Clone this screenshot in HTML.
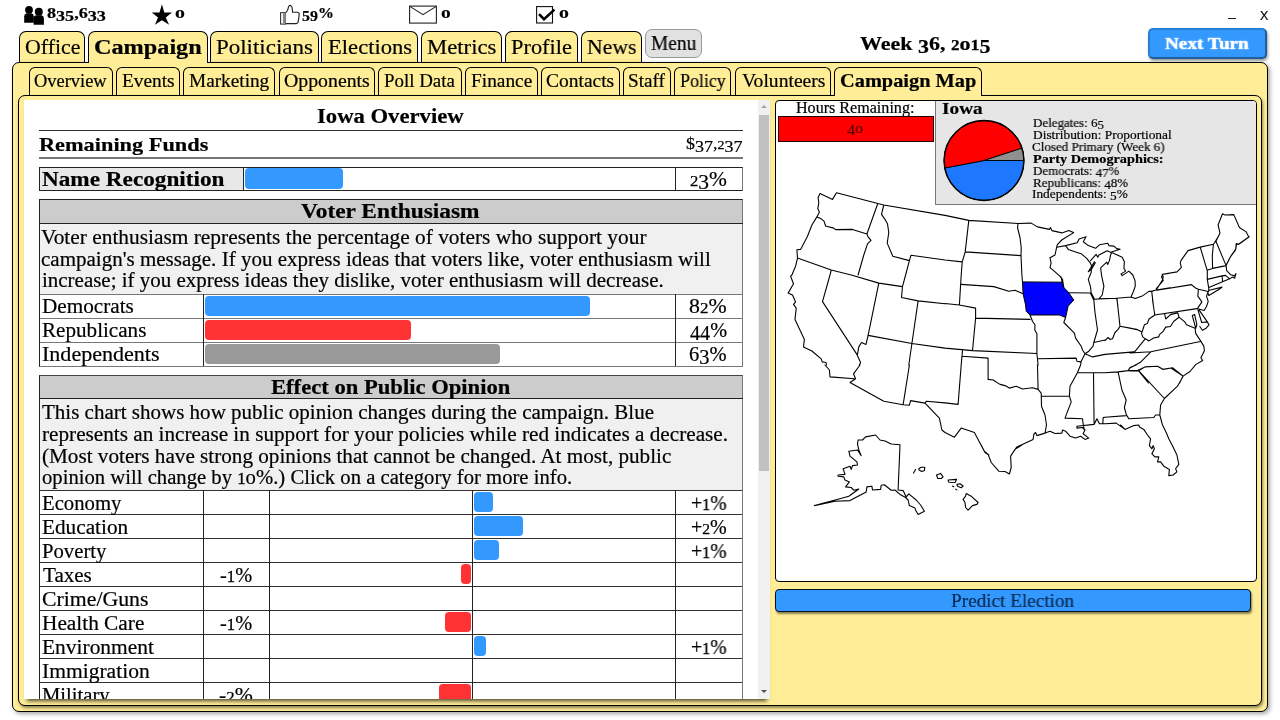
<!DOCTYPE html>
<html>
<head>
<meta charset="utf-8">
<title>Campaign Map</title>
<style>
*{box-sizing:border-box;margin:0;padding:0}
html,body{width:1280px;height:720px;overflow:hidden;background:#fff}
body{font-family:"Liberation Serif",serif;color:#000;position:relative}
.a{position:absolute}
.t{position:absolute;white-space:nowrap;line-height:1;transform-origin:0 0;will-change:transform;-webkit-text-stroke:.2px}
.tab{position:absolute;top:31px;height:33px;background:#FFED97;border:1px solid #000;border-bottom:none;border-radius:7px 7px 0 0}
.stab{position:absolute;top:67px;height:29px;background:#FFED97;border:1px solid #000;border-bottom:none;border-radius:6px 6px 0 0}
#outer{position:absolute;left:12px;top:62px;width:1256px;height:650px;background:#FFED97;border:1px solid #000;border-radius:7px;box-shadow:2px 2px 4px rgba(0,0,0,.35)}
#inner{position:absolute;left:18px;top:95px;width:1244px;height:611px;background:#FFED97;border:1px solid #000;border-radius:7px;box-shadow:1px 2px 3px rgba(0,0,0,.45)}
#left{position:absolute;left:24px;top:100px;width:746px;height:599px;background:#fff;overflow:hidden;box-shadow:0 5px 4px -3px rgba(0,0,0,.7)}
#right{position:absolute;left:775px;top:100px;width:482px;height:482px;background:#fff;border:1px solid #000;border-radius:4px;overflow:hidden}
.pg{position:absolute;left:0;top:0;width:1280px;height:720px}
.ln{position:absolute;background:#222}
.bar{position:absolute;border-radius:4px}
.blue{background:#3399FF}.red{background:#FF3333}.gray{background:#999}
</style>
</head>
<body>
<!--STATUS-->
<svg class="a" style="left:0;top:0" width="600" height="30" viewBox="0 0 600 30">
<!-- people -->
<g fill="#000">
<circle cx="29" cy="9.8" r="3.9"/>
<path d="M24.2 22.7 V16.2 Q24.2 13.6 26.6 13.3 H31.4 Q33.8 13.6 33.8 16.2 V22.7 Z"/>
<circle cx="38.8" cy="11.8" r="4"/>
<path d="M33.6 24.8 V18.2 Q33.6 15.6 36 15.3 H41.5 Q43.9 15.6 43.9 18.2 V24.8 Z"/>
</g>
<!-- star -->
<path fill="#000" d="M161.9 4.3 L164.3 12.4 L172 12.6 L165.8 17.4 L169.1 24.8 L161.9 20.2 L154.9 24.8 L158 17.4 L151.8 12.6 L159.5 12.4 Z"/>
<!-- thumb -->
<rect x="280.6" y="12.7" width="5.1" height="11.4" fill="#fff" stroke="#222" stroke-width="1"/>
<rect x="282.9" y="13.2" width="2.6" height="10.4" fill="#888"/>
<path fill="#fff" stroke="#222" stroke-width="1.15" stroke-linejoin="round" d="M285.9 12.6 Q288.2 10.2 288.6 6.6 Q289.2 5 290.6 5.4 Q292.4 6.6 292.3 9 L292.5 12.2 H297.6 Q299.5 12.6 299.2 14.6 L298.2 21.8 Q297.8 23.5 296.2 23.6 H285.9"/>
<!-- envelope -->
<rect x="409.6" y="6.1" width="26.8" height="17" fill="#fff" stroke="#222" stroke-width="1.1"/>
<path d="M409.8 6.4 L423 14.6 L436.2 6.4" fill="none" stroke="#222" stroke-width="1.1"/>
<!-- checkbox -->
<rect x="536.6" y="6.6" width="15.9" height="16.4" fill="#fff" stroke="#111" stroke-width="1.1"/>
<path d="M539 14.2 L544 19.2 L554.4 9.6" fill="none" stroke="#000" stroke-width="2.6"/>
</svg>

<div class="t" style="left:46.77px;top:5.94px;font-size:15px;transform:scaleX(1.2068);font-weight:bold;">8<span style="position:relative;top:0.17em">35</span>,6<span style="position:relative;top:0.17em">33</span></div>
<div class="t" style="left:174.59px;top:3.84px;font-size:17.5px;transform:scaleX(1.1333);font-weight:bold;">o</div>
<div class="t" style="left:302.10px;top:5.94px;font-size:15px;transform:scaleX(1.0619);font-weight:bold;"><span style="position:relative;top:0.17em">59</span>%</div>
<div class="t" style="left:441.21px;top:3.84px;font-size:17.5px;transform:scaleX(1.1067);font-weight:bold;">o</div>
<div class="t" style="left:558.59px;top:3.84px;font-size:17.5px;transform:scaleX(1.1333);font-weight:bold;">o</div>
<div class="a" style="left:1228px;top:18px;width:8px;height:1px;background:#222"></div>
<div class="t" style="left:1259.95px;top:9.54px;font-size:12.5px;transform:scaleX(0.9905);font-family:'Liberation Sans',sans-serif;">X</div>
<div class="tab" style="left:19px;width:66px"></div>
<div class="tab" style="left:210px;width:109px"></div>
<div class="tab" style="left:321px;width:97px"></div>
<div class="tab" style="left:421px;width:81px"></div>
<div class="tab" style="left:505px;width:73px"></div>
<div class="tab" style="left:581px;width:61px"></div>
<div id="outer"></div>
<div class="tab" style="left:88px;width:120px;height:31px"></div>
<div class="a" style="left:89px;top:61px;width:118px;height:3px;background:#FFED97"></div>
<div class="t" style="left:24.62px;top:37.24px;font-size:21.8px;transform:scaleX(1.0021);">Office</div>
<div class="t" style="left:93.84px;top:36.88px;font-size:20.8px;transform:scaleX(1.1649);font-weight:bold;">Campaign</div>
<div class="t" style="left:216.34px;top:37.24px;font-size:21.8px;transform:scaleX(1.0523);">Politicians</div>
<div class="t" style="left:328.05px;top:37.24px;font-size:21.8px;transform:scaleX(1.0374);">Elections</div>
<div class="t" style="left:426.65px;top:37.24px;font-size:21.8px;transform:scaleX(1.0421);">Metrics</div>
<div class="t" style="left:511.36px;top:37.24px;font-size:21.8px;transform:scaleX(1.0259);">Profile</div>
<div class="t" style="left:587.38px;top:37.24px;font-size:21.8px;transform:scaleX(0.9935);">News</div>
<div class="a" style="left:645px;top:29px;width:57px;height:29px;background:#E1E1E1;border:1px solid #999;border-radius:7px"></div>
<div class="t" style="left:651.25px;top:33.15px;font-size:20px;transform:scaleX(0.9692);">Menu</div>
<div class="t" style="left:859.71px;top:33.99px;font-size:19px;transform:scaleX(1.1574);font-weight:bold;">Week <span style="position:relative;top:0.17em">3</span>6, <span style="font-size:0.78em;-webkit-text-stroke:.25px">2</span>o<span style="font-size:0.82em;-webkit-text-stroke:.3px">1</span><span style="position:relative;top:0.17em">5</span></div>
<div class="a" style="left:1148px;top:28px;width:119px;height:31px;background:#3399FF;border:2px solid #2a7fd4;border-right-color:#1f5f9f;border-bottom-color:#1f5f9f;border-radius:5px;box-shadow:1px 2px 3px rgba(0,0,0,.4)"></div>
<div class="t" style="left:1164.86px;top:35.44px;font-size:17.5px;transform:scaleX(1.0974);font-weight:bold;color:#fff;text-shadow:0 0 2px #cfe6ff;">Next Turn</div>
<div class="stab" style="left:29px;width:84px"></div>
<div class="stab" style="left:116px;width:64px"></div>
<div class="stab" style="left:183px;width:92px"></div>
<div class="stab" style="left:279px;width:96px"></div>
<div class="stab" style="left:378px;width:84px"></div>
<div class="stab" style="left:465px;width:73px"></div>
<div class="stab" style="left:541px;width:79px"></div>
<div class="stab" style="left:623px;width:48px"></div>
<div class="stab" style="left:674px;width:57px"></div>
<div class="stab" style="left:735px;width:96px"></div>
<div id="inner"></div>
<div class="stab" style="left:834px;width:148px;height:28px"></div>
<div class="a" style="left:835px;top:94px;width:146px;height:3px;background:#FFED97"></div>
<div class="t" style="left:34.24px;top:71.67px;font-size:18.3px;transform:scaleX(1.0079);">Overview</div>
<div class="t" style="left:121.97px;top:71.67px;font-size:18.3px;transform:scaleX(1.0578);">Events</div>
<div class="t" style="left:188.97px;top:71.67px;font-size:18.3px;transform:scaleX(1.0539);">Marketing</div>
<div class="t" style="left:283.89px;top:71.67px;font-size:18.3px;transform:scaleX(1.0833);">Opponents</div>
<div class="t" style="left:384.48px;top:71.67px;font-size:18.3px;transform:scaleX(1.0338);">Poll Data</div>
<div class="t" style="left:470.77px;top:71.67px;font-size:18.3px;transform:scaleX(1.0579);">Finance</div>
<div class="t" style="left:546.40px;top:71.67px;font-size:18.3px;transform:scaleX(1.0656);">Contacts</div>
<div class="t" style="left:627.95px;top:71.67px;font-size:18.3px;transform:scaleX(1.0491);">Staff</div>
<div class="t" style="left:679.71px;top:71.67px;font-size:18.3px;transform:scaleX(0.9795);">Policy</div>
<div class="t" style="left:741.80px;top:71.67px;font-size:18.3px;transform:scaleX(1.0714);">Volunteers</div>
<div class="t" style="left:839.53px;top:71.57px;font-size:18.3px;transform:scaleX(1.1135);font-weight:bold;">Campaign Map</div>
<div id="left"><div class="pg" style="left:-24px;top:-100px">
<div class="t" style="left:317.14px;top:105.53px;font-size:20.5px;transform:scaleX(1.1051);font-weight:bold;">Iowa Overview</div>
<div class="ln" style="left:39px;top:130px;width:704px;height:1px;background:#333"></div>
<div class="t" style="left:39.43px;top:135.56px;font-size:18.8px;transform:scaleX(1.1886);font-weight:bold;">Remaining Funds</div>
<div class="t" style="left:685.87px;top:135.36px;font-size:17px;transform:scaleX(1.0584);">$<span style="position:relative;top:0.17em">37</span>,<span style="font-size:0.78em;-webkit-text-stroke:.25px">2</span><span style="position:relative;top:0.17em">37</span></div>
<div class="ln" style="left:39px;top:157px;width:704px;height:2px;background:#777"></div>
<div class="a" style="left:39px;top:167px;width:704px;height:24px;border:1px solid #222;border-right-color:#777;background:#fff"></div>
<div class="a" style="left:40px;top:168px;width:203px;height:22px;background:#E8E8E8"></div>
<div class="ln" style="left:243px;top:167px;width:1px;height:24px"></div>
<div class="ln" style="left:675px;top:167px;width:1px;height:24px"></div>
<div class="t" style="left:41.86px;top:168.65px;font-size:20px;transform:scaleX(1.1606);font-weight:bold;">Name Recognition</div>
<div class="bar blue" style="left:245px;top:168px;width:98px;height:21px"></div>
<div class="t" style="left:689.73px;top:168.85px;font-size:20px;transform:scaleX(1.0727);"><span style="font-size:0.78em;-webkit-text-stroke:.25px">2</span><span style="position:relative;top:0.17em">3</span>%</div>
<div class="a" style="left:39px;top:199px;width:704px;height:168px;border:1px solid #222;border-right-color:#777;border-bottom-color:#777;background:#fff"></div>
<div class="a" style="left:40px;top:200px;width:702px;height:23px;background:#CCC"></div>
<div class="a" style="left:40px;top:224px;width:702px;height:70px;background:#F0F0F0"></div>
<div class="ln" style="left:39px;top:223px;width:704px;height:1px"></div>
<div class="ln" style="left:40px;top:294px;width:702px;height:1px;background:#777"></div>
<div class="ln" style="left:40px;top:318px;width:702px;height:1px;background:#777"></div>
<div class="ln" style="left:40px;top:342px;width:702px;height:1px;background:#777"></div>
<div class="ln" style="left:203px;top:294px;width:1px;height:72px"></div>
<div class="ln" style="left:675px;top:294px;width:1px;height:72px"></div>
<div class="t" style="left:300.78px;top:201.30px;font-size:20.3px;transform:scaleX(1.1522);font-weight:bold;">Voter Enthusiasm</div>
<div class="t" style="left:41.30px;top:227.15px;font-size:20px;transform:scaleX(1.0685);">Voter enthusiasm represents the percentage of voters who support your</div>
<div class="t" style="left:41.21px;top:248.75px;font-size:20px;transform:scaleX(1.0509);">campaign's message. If you express ideas that voters like, voter enthusiasm will</div>
<div class="t" style="left:41.91px;top:270.35px;font-size:20px;transform:scaleX(1.0481);">increase; if you express ideas they dislike, voter enthusiasm will decrease.</div>
<div class="t" style="left:42.40px;top:296.25px;font-size:20px;transform:scaleX(1.0600);">Democrats</div>
<div class="bar blue" style="left:205px;top:296px;width:384.5px;height:20px"></div>
<div class="t" style="left:689.48px;top:296.25px;font-size:20px;transform:scaleX(1.0888);">8<span style="font-size:0.78em;-webkit-text-stroke:.25px">2</span>%</div>
<div class="t" style="left:42.41px;top:320.25px;font-size:20px;transform:scaleX(1.0557);">Republicans</div>
<div class="bar red" style="left:205px;top:320px;width:206.3px;height:20px"></div>
<div class="t" style="left:689.92px;top:320.25px;font-size:20px;transform:scaleX(1.0105);"><span style="position:relative;top:0.17em">44</span>%</div>
<div class="t" style="left:42.24px;top:344.25px;font-size:20px;transform:scaleX(1.1021);">Independents</div>
<div class="bar gray" style="left:205px;top:344px;width:295.3px;height:20px"></div>
<div class="t" style="left:689.47px;top:344.25px;font-size:20px;transform:scaleX(1.0231);">6<span style="position:relative;top:0.17em">3</span>%</div>
<div class="a" style="left:39px;top:375px;width:704px;height:340px;border:1px solid #222;border-top-color:#444;border-right-color:#777;background:#fff"></div>
<div class="a" style="left:40px;top:376px;width:702px;height:22px;background:#CCC"></div>
<div class="a" style="left:40px;top:399px;width:702px;height:91px;background:#F0F0F0"></div>
<div class="ln" style="left:39px;top:398px;width:704px;height:1px"></div>
<div class="ln" style="left:40px;top:490px;width:702px;height:1px;background:#333"></div>
<div class="ln" style="left:40px;top:514px;width:702px;height:1px;background:#333"></div>
<div class="ln" style="left:40px;top:538px;width:702px;height:1px;background:#333"></div>
<div class="ln" style="left:40px;top:562px;width:702px;height:1px;background:#333"></div>
<div class="ln" style="left:40px;top:586px;width:702px;height:1px;background:#333"></div>
<div class="ln" style="left:40px;top:610px;width:702px;height:1px;background:#333"></div>
<div class="ln" style="left:40px;top:634px;width:702px;height:1px;background:#333"></div>
<div class="ln" style="left:40px;top:658px;width:702px;height:1px;background:#333"></div>
<div class="ln" style="left:40px;top:682px;width:702px;height:1px;background:#333"></div>
<div class="ln" style="left:203px;top:490px;width:1px;height:220px"></div>
<div class="ln" style="left:269px;top:490px;width:1px;height:220px"></div>
<div class="ln" style="left:472px;top:490px;width:1px;height:220px"></div>
<div class="ln" style="left:675px;top:490px;width:1px;height:220px"></div>
<div class="t" style="left:270.65px;top:376.90px;font-size:20.3px;transform:scaleX(1.1149);font-weight:bold;">Effect on Public Opinion</div>
<div class="t" style="left:42.37px;top:402.45px;font-size:20px;transform:scaleX(1.0504);">This chart shows how public opinion changes during the campaign. Blue</div>
<div class="t" style="left:41.90px;top:424.05px;font-size:20px;transform:scaleX(1.0604);">represents an increase in support for your policies while red indicates a decrease.</div>
<div class="t" style="left:41.57px;top:445.65px;font-size:20px;transform:scaleX(1.0579);">(Most voters have strong opinions that cannot be changed. At most, public</div>
<div class="t" style="left:41.53px;top:467.25px;font-size:20px;transform:scaleX(1.0333);">opinion will change by <span style="font-size:0.82em;-webkit-text-stroke:.3px">1</span>o%.) Click on a category for more info.</div>
<div class="t" style="left:42.42px;top:492.85px;font-size:20px;transform:scaleX(1.0355);">Economy</div>
<div class="bar blue" style="left:474px;top:492px;width:19.3px;height:20px"></div>
<div class="t" style="left:690.68px;top:492.85px;font-size:20px;transform:scaleX(0.9847);">+<span style="font-size:0.82em;-webkit-text-stroke:.3px">1</span>%</div>
<div class="t" style="left:42.40px;top:516.85px;font-size:20px;transform:scaleX(1.0629);">Education</div>
<div class="bar blue" style="left:474px;top:516px;width:48.7px;height:20px"></div>
<div class="t" style="left:690.67px;top:516.85px;font-size:20px;transform:scaleX(0.9955);">+<span style="font-size:0.78em;-webkit-text-stroke:.25px">2</span>%</div>
<div class="t" style="left:42.42px;top:540.85px;font-size:20px;transform:scaleX(1.0347);">Poverty</div>
<div class="bar blue" style="left:474px;top:540px;width:25.0px;height:20px"></div>
<div class="t" style="left:690.68px;top:540.85px;font-size:20px;transform:scaleX(0.9847);">+<span style="font-size:0.82em;-webkit-text-stroke:.3px">1</span>%</div>
<div class="t" style="left:42.67px;top:564.85px;font-size:20px;transform:scaleX(1.0527);">Taxes</div>
<div class="bar red" style="left:461px;top:564px;width:10.0px;height:20px"></div>
<div class="t" style="left:220.30px;top:564.85px;font-size:20px;transform:scaleX(1.0179);">-<span style="font-size:0.82em;-webkit-text-stroke:.3px">1</span>%</div>
<div class="t" style="left:42.12px;top:588.85px;font-size:20px;transform:scaleX(1.0878);">Crime/Guns</div>
<div class="t" style="left:42.40px;top:612.85px;font-size:20px;transform:scaleX(1.0653);">Health Care</div>
<div class="bar red" style="left:445px;top:612px;width:26.0px;height:20px"></div>
<div class="t" style="left:220.30px;top:612.85px;font-size:20px;transform:scaleX(1.0179);">-<span style="font-size:0.82em;-webkit-text-stroke:.3px">1</span>%</div>
<div class="t" style="left:42.40px;top:636.85px;font-size:20px;transform:scaleX(1.0721);">Environment</div>
<div class="bar blue" style="left:474px;top:636px;width:11.7px;height:20px"></div>
<div class="t" style="left:690.68px;top:636.85px;font-size:20px;transform:scaleX(0.9847);">+<span style="font-size:0.82em;-webkit-text-stroke:.3px">1</span>%</div>
<div class="t" style="left:42.26px;top:660.85px;font-size:20px;transform:scaleX(1.0771);">Immigration</div>
<div class="t" style="left:42.42px;top:684.85px;font-size:20px;transform:scaleX(1.0318);">Military</div>
<div class="bar red" style="left:439px;top:684px;width:32.0px;height:20px"></div>
<div class="t" style="left:219.25px;top:684.85px;font-size:20px;transform:scaleX(1.0844);">-<span style="font-size:0.78em;-webkit-text-stroke:.25px">2</span>%</div>
<div class="a" style="left:758px;top:100px;width:12px;height:599px;background:#F1F1F1"></div>
<div class="a" style="left:759px;top:115px;width:10px;height:356px;background:#C1C1C1"></div>
<div class="a" style="left:761px;top:105px;width:0;height:0;border-left:3px solid transparent;border-right:3px solid transparent;border-bottom:3px solid #A3A3A3"></div>
<div class="a" style="left:761px;top:690px;width:0;height:0;border-left:3px solid transparent;border-right:3px solid transparent;border-top:3px solid #505050"></div>
</div></div>
<div id="right"><div class="pg" style="left:-776px;top:-101px">
<div class="t" style="left:795.66px;top:100.20px;font-size:16px;transform:scaleX(1.0055);">Hours Remaining:</div>
<div class="a" style="left:778px;top:116px;width:156px;height:26px;background:#FF0000;border:1px solid #200"></div>
<div class="t" style="left:846.72px;top:120.96px;font-size:14.5px;transform:scaleX(1.1127);color:#5a0000;"><span style="position:relative;top:0.17em">4</span>o</div>
<div class="a" style="left:935px;top:100px;width:322px;height:105px;background:#E6E6E6;border:1px solid #777"></div>
<div class="t" style="left:942.16px;top:99.76px;font-size:17px;transform:scaleX(1.1351);font-weight:bold;">Iowa</div>
<svg class="a" style="left:935px;top:112px" width="100" height="96" viewBox="935 112 100 96">
<path d="M984.0 160.5 L1023.90 160.50 A39.9 39.9 0 0 1 944.81 167.98 Z" fill="#1E78FF" stroke="#000" stroke-width="0.9" stroke-linejoin="round"/>
<path d="M984.0 160.5 L944.81 167.98 A39.9 39.9 0 0 1 1021.95 148.17 Z" fill="#FF0000" stroke="#000" stroke-width="0.9" stroke-linejoin="round"/>
<path d="M984.0 160.5 L1021.95 148.17 A39.9 39.9 0 0 1 1023.90 160.50 Z" fill="#909090" stroke="#000" stroke-width="0.9" stroke-linejoin="round"/>
<circle cx="984.0" cy="160.5" r="39.9" fill="none" stroke="#000" stroke-width="1.5"/>
</svg>
<div class="t" style="left:1032.53px;top:115.84px;font-size:13.2px;transform:scaleX(0.9832);">Delegates: 6<span style="position:relative;top:0.17em">5</span></div>
<div class="t" style="left:1032.52px;top:127.78px;font-size:13.2px;transform:scaleX(1.0150);">Distribution: Proportional</div>
<div class="t" style="left:1032.41px;top:139.70px;font-size:13.2px;transform:scaleX(0.9887);">Closed Primary (Week 6)</div>
<div class="t" style="left:1032.70px;top:151.63px;font-size:13.2px;transform:scaleX(1.0832);font-weight:bold;">Party Demographics:</div>
<div class="t" style="left:1032.53px;top:163.56px;font-size:13.2px;transform:scaleX(0.9787);">Democrats: <span style="position:relative;top:0.17em">47</span>%</div>
<div class="t" style="left:1032.53px;top:175.50px;font-size:13.2px;transform:scaleX(0.9879);">Republicans: <span style="position:relative;top:0.17em">4</span>8%</div>
<div class="t" style="left:1032.46px;top:187.43px;font-size:13.2px;transform:scaleX(1.0097);">Independents: <span style="position:relative;top:0.17em">5</span>%</div>
<svg class="a" style="left:776px;top:180px" width="480" height="340" viewBox="776 180 480 340">
<path d="M1022.5 281.9 L1061.9 282.2 L1063.8 287.5 L1068.1 291.9 L1073.8 300.0 L1068.1 306.2 L1065.6 317.5 L1059.4 315.0 L1030.0 315.0 L1026.2 311.2 L1025.6 305.0 L1023.1 293.8 Z" fill="#0000FF" stroke="#000" stroke-width="1"/>
<path d="M816.9 216.9 L819.4 211.9 L817.8 208.8 L818.8 202.5 L818.1 197.5 L820.0 193.5 L832.5 199.4 L836.5 192.8 L877.8 203.5 L883.8 205.0 L945.0 215.4 M816.9 216.9 L821.2 218.8 L824.0 221.2 L825.6 226.0 L833.8 228.1 L835.6 229.6 L852.5 229.4 L866.9 234.0 M877.8 203.5 L866.9 234.0 L868.1 236.9 L871.0 240.4 L867.5 243.8 L863.8 255.0 L858.1 275.0 M816.9 216.9 L811.9 225.0 L807.5 236.2 L800.6 249.4 L796.9 249.8 L797.5 258.1 L795.6 266.2 L791.9 275.0 M797.5 258.1 L831.2 270.0 L851.2 275.0 M831.2 270.0 L830.0 275.0 M883.8 205.0 L881.5 214.4 L885.0 219.4 L887.5 223.8 L888.8 232.5 L887.2 243.1 L892.8 256.2 L909.4 260.6 L905.6 275.0 M909.4 260.6 L911.0 255.2 L945.0 260.0 M945.0 215.4 L968.8 220.4 L1018.1 223.5 L1031.2 223.1 L1037.5 226.9 L1049.4 229.4 L1050.4 227.5 L1051.9 230.6 L1061.9 232.9 L1068.8 230.6 L1073.5 232.5 M968.8 220.4 L965.2 251.9 L962.2 261.9 L961.2 275.0 M945.0 260.0 L962.2 261.9 M965.2 251.9 L1021.0 255.6 M1018.1 223.5 L1017.5 227.5 L1020.0 237.5 L1021.2 247.5 L1021.0 255.6 L1021.9 275.0 M1073.7 232.6 L1066.1 237.2 L1061.7 240.0 L1057.2 244.8 L1056.7 247.2 L1055.0 255.0 L1050.0 257.8 L1051.1 262.8 L1050.0 267.8 L1052.2 269.4 L1061.1 277.2 L1062.2 282.8 M1056.7 247.2 L1065.6 245.6 L1077.2 242.8 L1079.1 238.9 L1086.1 236.7 L1083.3 241.7 L1088.3 245.6 L1095.6 248.3 L1099.4 244.8 L1107.8 243.3 L1108.9 245.6 L1113.9 246.1 L1116.7 248.6 L1120.2 249.2 L1112.2 251.7 L1111.1 252.6 M1065.6 245.6 L1068.3 249.4 L1081.7 254.1 L1086.7 258.3 L1090.6 263.3 L1091.7 266.7 L1091.1 272.8 L1088.3 279.4 L1090.6 287.2 L1091.1 292.8 L1094.4 298.9 M1111.1 252.6 L1107.2 250.8 L1103.3 252.8 L1098.9 255.0 L1097.8 257.2 L1096.1 254.4 L1090.6 260.6 M1094.4 261.7 L1088.3 271.7 M1095.3 262.6 L1091.3 269.4 L1088.3 271.7 M1069.4 292.8 L1090.6 293.0 M1098.9 298.9 L1102.2 295.0 L1103.9 286.1 L1101.7 276.1 L1100.6 267.8 L1106.7 262.2 L1107.8 264.4 L1109.4 260.6 L1110.6 255.0 L1111.7 252.6 L1116.7 254.8 L1122.2 257.2 L1124.4 261.7 L1123.9 268.3 L1125.6 271.1 L1121.1 273.9 L1122.2 275.6 L1128.9 271.1 L1132.8 275.0 L1135.0 280.6 L1135.3 286.1 L1133.3 291.7 L1131.1 296.7 M1094.4 299.2 L1098.9 298.9 L1116.7 298.3 L1131.1 297.0 L1135.3 298.6 L1142.2 296.1 L1148.9 291.4 L1152.2 291.1 L1156.1 290.0 L1162.2 280.6 L1163.3 277.2 L1162.2 274.4 L1170.0 273.3 M1116.7 298.3 L1117.8 305.0 M1151.7 291.1 L1153.3 305.0 M1156.1 290.0 L1170.0 287.8 M1249.2 236.7 L1238.8 244.2 L1236.5 243.6 L1235.9 248.8 L1230.7 256.3 L1226.1 265.6 M1215.7 240.8 L1226.1 265.6 M1188.0 250.6 L1200.2 247.1 L1213.4 244.2 L1215.7 240.8 L1219.2 235.0 M1213.4 244.2 L1212.3 255.8 L1212.6 268.4 M1200.2 247.1 L1207.1 270.2 M1207.1 270.2 L1212.6 268.4 L1224.9 265.9 L1226.1 265.6 L1226.7 270.7 L1230.7 274.8 L1234.7 275.9 L1235.9 273.6 L1234.7 278.2 L1232.4 277.1 L1229.6 278.8 M1207.3 279.4 L1222.1 275.9 L1225.5 275.4 L1229.6 278.8 L1222.6 281.7 L1208.8 287.5 M1222.1 275.9 L1222.6 281.7 M1207.3 270.2 L1207.3 279.4 L1208.8 288.6 L1208.6 291.5 M1209.4 290.3 L1222.1 287.1 L1219.2 289.2 L1208.8 295.5 L1207.7 292.1 M1188.0 250.6 L1181.1 260.4 L1180.2 263.2 L1181.4 267.3 L1177.1 271.9 L1162.7 274.2 L1161.5 277.1 L1163.3 280.5 L1156.3 288.6 L1156.9 290.3 M1156.9 290.3 L1191.5 284.6 L1195.5 288.0 L1198.4 289.2 L1208.2 291.5 M1198.4 289.2 L1197.8 296.1 L1201.9 301.9 L1198.4 307.1 L1197.3 308.8 M1208.2 291.5 L1206.5 296.1 L1208.2 301.3 L1206.5 306.5 L1204.2 310.5 L1197.8 308.8 M1215.6 241.9 L1220.0 233.1 L1218.1 225.0 L1222.5 213.8 L1225.0 215.0 L1233.8 214.6 L1239.4 227.5 L1246.2 231.9 L1248.8 236.9 L1238.1 244.4 L1236.2 243.8 L1235.6 250.0 L1230.0 257.5 L1226.2 265.0 M791.9 275.0 L790.6 276.2 L793.5 283.8 L788.1 293.1 L792.5 295.0 L795.6 301.9 L793.5 304.4 L796.2 308.1 L795.0 319.4 L804.4 339.4 L803.5 346.9 L811.9 351.0 L821.2 358.8 L822.2 361.9 L826.0 362.5 L826.5 365.0 M830.0 275.0 L822.5 301.6 L856.9 354.4 L860.6 362.5 L859.4 365.0 M851.2 275.0 L878.8 283.1 L902.5 286.6 M878.8 283.1 L868.1 335.4 L866.0 344.4 L861.5 342.5 L858.8 346.9 L857.5 354.4 M905.6 275.0 L902.5 286.6 L901.5 297.5 L918.1 300.9 L945.0 303.8 M918.1 300.9 L911.9 343.5 M868.1 335.4 L911.9 343.5 L945.0 348.1 M911.9 343.5 L908.8 365.0 M961.2 275.0 L959.4 305.0 M945.0 303.5 L959.4 305.0 L975.6 308.1 M961.2 284.4 L993.8 286.6 L1008.8 291.2 L1015.0 290.2 L1023.1 293.8 M975.6 308.1 L975.6 318.1 L1030.0 319.4 M1030.0 315.0 L1032.5 321.2 L1035.0 325.0 L1034.8 330.0 L1036.9 333.8 L1036.9 353.5 L1038.1 365.0 M975.6 318.1 L972.5 350.6 M945.0 348.1 L972.5 350.6 L1036.9 353.5 M962.5 350.6 L961.2 365.0 M962.5 356.2 L988.1 358.1 L988.1 365.0 M1065.6 317.5 L1063.8 322.5 L1074.4 333.1 L1075.6 338.1 L1081.2 346.2 L1082.5 350.0 L1085.0 353.8 L1083.8 356.2 L1081.2 361.2 L1080.6 365.0 M1038.1 358.8 L1076.2 358.1 L1076.9 361.2 L1080.6 361.9 M1090.6 293.5 L1093.8 300.0 L1095.0 312.5 L1097.5 330.0 L1093.8 342.5 L1093.1 346.2 L1088.8 351.2 L1085.0 353.8 M1058.8 275.0 L1062.5 279.4 L1063.8 287.5 M1021.9 275.0 L1022.5 281.9 M1093.8 342.5 L1105.0 340.0 M1085.0 353.8 L1092.5 356.9 L1105.0 354.4 M1116.9 298.1 L1120.0 326.2 M1120.0 326.2 L1130.0 328.1 L1138.1 330.0 L1141.9 331.9 M1120.0 326.2 L1118.1 329.4 L1115.0 332.5 L1112.5 338.8 L1110.0 339.4 L1108.1 337.5 L1105.0 340.6 M1105.0 354.4 L1133.8 351.9 M1152.5 300.0 L1154.8 315.0 L1196.9 308.6 M1198.0 310.1 L1201.7 322.5 L1207.3 321.9 L1199.2 310.1 M1207.3 321.9 L1209.0 324.8 L1206.1 328.2 L1202.4 330.2 L1199.8 326.5 M1192.3 315.6 L1194.6 314.4 L1196.9 324.8 L1195.7 328.2 L1192.3 315.6 M1164.6 313.6 L1165.7 319.0 L1170.9 314.4 L1177.8 312.9 L1179.0 317.1 L1184.8 321.9 L1186.5 324.8 L1195.1 328.2 M1179.0 317.3 L1173.8 321.3 L1170.4 326.5 L1165.7 327.1 L1162.9 331.7 L1159.4 334.6 L1158.8 336.9 L1153.6 338.0 L1149.0 340.9 L1145.0 338.6 L1142.7 336.9 M1154.8 315.0 L1149.0 319.0 L1147.3 323.6 L1144.4 324.8 L1142.7 330.0 L1141.5 333.4 L1142.7 336.9 M1130.0 328.2 L1136.9 329.4 L1141.5 331.7 M1145.0 339.2 L1134.6 351.9 M1130.0 353.0 L1150.8 351.7 L1200.3 341.5 M1195.1 328.2 L1195.7 333.4 L1200.3 340.4 L1203.8 346.1 L1204.4 350.7 L1200.9 357.7 L1202.6 360.5 L1195.7 364.6 L1190.0 371.5 L1183.0 376.1 L1179.6 383.0 M1150.8 351.9 L1140.4 362.3 L1130.0 368.0 M1138.6 370.9 L1145.0 366.9 L1157.7 366.3 L1162.9 369.2 L1170.9 368.0 L1183.0 376.1 M1130.0 370.9 L1138.6 370.9 L1148.4 383.0 M825.0 365.0 L829.4 370.0 L830.0 376.9 L854.4 378.8 M860.0 365.0 L853.5 373.8 L855.6 378.8 L850.0 382.5 L883.8 401.2 L903.1 404.8 L909.4 405.2 L910.6 400.6 L925.0 403.1 L926.2 401.2 L945.0 402.9 M909.4 365.0 L903.1 404.8 M925.0 403.1 L939.4 418.1 L941.9 430.0 L945.0 432.5 M961.2 365.0 L958.1 404.4 L945.0 402.9 M988.1 365.0 L988.1 379.4 L993.1 380.0 L1000.0 384.4 L1005.0 385.6 L1009.4 388.1 L1016.2 386.2 L1022.5 389.0 L1032.5 387.8 L1038.1 389.4 L1041.2 393.1 L1041.5 406.2 L1045.0 415.0 L1046.5 425.0 L1045.0 433.1 M1037.5 365.0 L1038.1 389.4 M1041.5 396.2 L1069.4 396.2 M1080.6 365.0 L1077.5 372.5 L1070.0 386.2 L1069.4 396.2 L1071.2 401.9 L1065.0 418.1 L1082.5 418.8 L1083.1 423.8 L1084.4 430.0 M1077.5 372.5 L1105.0 372.8 M1093.5 373.1 L1094.1 424.4 M1076.9 426.2 L1094.1 424.4 L1096.9 418.8 L1099.4 423.8 L1102.8 423.5 L1105.0 423.8 M1102.8 423.5 L1103.2 417.6 L1105.0 417.2 M1045.0 433.1 L1050.0 431.2 L1055.0 433.5 L1061.9 433.1 L1062.5 430.0 L1065.6 431.2 L1070.0 436.2 L1075.6 438.1 L1080.6 436.2 L1085.0 439.4 L1088.8 438.1 L1083.1 433.8 L1085.0 430.0 L1082.5 427.5 L1076.9 428.1 L1076.9 426.2 M1045.0 433.1 L1036.9 435.6 L1035.6 432.5 L1033.8 434.4 L1033.1 439.4 L1016.9 446.9 L1011.2 455.0 M945.0 432.5 L954.4 437.2 L961.2 428.1 L974.4 432.5 L985.0 452.5 L988.8 455.0 M1105.0 372.8 L1118.1 371.9 L1128.1 370.6 L1138.1 370.2 M1128.1 370.6 L1130.0 367.5 L1136.2 365.0 M1138.1 370.2 L1145.0 366.9 L1157.5 366.2 L1163.1 369.4 L1172.5 367.8 L1183.1 376.2 M1118.1 371.9 L1121.9 390.0 L1126.2 400.0 L1124.4 407.5 L1126.2 414.4 L1128.8 418.8 M1138.1 370.2 L1164.4 398.5 M1183.1 376.2 L1177.5 386.2 L1164.4 398.5 L1160.6 405.0 L1159.8 415.0 M1128.8 418.8 L1153.8 417.5 L1155.6 415.0 L1159.8 415.0 M1105.0 417.2 L1126.2 415.6 M1105.0 423.8 L1116.2 423.1 L1125.0 429.4 M1120.6 425.0 L1125.0 429.4 L1133.8 425.6 L1138.8 425.0 L1139.4 426.9 L1143.8 429.4 L1147.5 435.0 L1150.6 438.8 L1149.4 445.6 L1151.9 448.8 L1153.1 445.6 L1154.4 448.8 L1151.9 453.8 L1155.0 456.9 L1158.8 456.9 L1157.5 461.9 L1160.6 461.9 L1163.8 466.2 L1169.4 469.4 L1168.8 475.6 L1173.1 475.0 L1176.9 471.9 L1175.6 468.8 L1178.8 464.4 L1176.9 455.0 L1173.1 446.9 L1168.8 438.8 L1166.2 432.5 L1162.5 425.0 L1159.8 415.0 M858.1 440.0 L862.5 440.0 L865.6 436.9 L875.6 435.0 L880.0 440.0 L885.0 441.0 L891.2 444.0 L900.0 444.8 L898.1 490.0 L903.1 490.6 L906.2 496.9 L908.8 493.8 L916.2 500.0 L920.6 505.0 L924.4 511.2 L918.1 514.4 L915.6 510.0 L915.0 508.1 L909.4 505.6 L908.1 500.0 L905.6 497.5 L900.6 494.8 L895.0 490.0 L891.2 490.2 L884.4 484.8 L881.2 485.2 L880.6 489.4 L872.5 490.0 L871.9 486.2 L866.9 486.9 L866.2 491.9 L850.0 500.6 L835.0 501.2 L814.4 505.6 L836.2 499.8 L848.8 496.2 L858.8 489.0 L853.8 490.2 L851.2 487.5 L845.6 486.9 L849.4 481.9 L845.0 480.0 L843.8 476.9 L838.1 476.2 L838.1 475.0 L845.0 474.4 L843.1 468.8 L850.0 466.2 L851.2 469.4 L852.5 465.6 L857.5 465.0 L856.9 461.9 L850.0 456.2 L848.8 451.2 L857.5 450.0 L861.2 455.6 L858.8 450.0 L857.5 443.8 L858.1 440.0 M913.5 473.1 L915.6 469.4 M918.8 468.8 L921.2 467.2 L924.8 467.2 L924.4 470.6 L921.9 471.6 L919.0 470.0 L918.8 468.8 M936.5 475.0 L940.6 473.4 L943.1 476.9 L941.2 478.5 L937.8 478.5 L936.5 475.0 M948.1 480.0 L956.5 479.4 L955.0 482.5 L948.8 482.2 L948.1 480.0 M956.9 484.4 L960.0 483.8 L963.1 486.0 L961.2 487.8 L957.5 486.2 L956.9 484.4 M952.5 486.0 L953.8 486.8 M955.6 489.1 L956.9 489.9 M966.2 493.5 L971.2 496.2 L978.1 502.5 L976.9 504.4 L972.5 505.6 L968.1 510.2 L965.6 507.5 L965.0 502.5 L963.1 499.4 L965.6 496.2 L966.2 493.5 M981.2 445.0 L984.4 451.2 L988.1 454.4 L991.2 462.5 L998.8 471.2 L1005.0 471.5 L1009.4 474.0 L1011.2 467.5 L1010.6 456.2 L1015.0 449.4 L1021.9 445.0" fill="none" stroke="#000" stroke-width="1.1" stroke-linejoin="round" stroke-linecap="round"/>
</svg>
</div></div>
<div class="a" style="left:775px;top:589px;width:476px;height:23px;background:#3399FF;border:1px solid #06121f;border-radius:4px;box-shadow:1px 2px 2px rgba(0,0,0,.45)"></div>
<div class="t" style="left:951.30px;top:590.64px;font-size:19.3px;transform:scaleX(0.9949);color:#0a2850;">Predict Election</div>
</body>
</html>
